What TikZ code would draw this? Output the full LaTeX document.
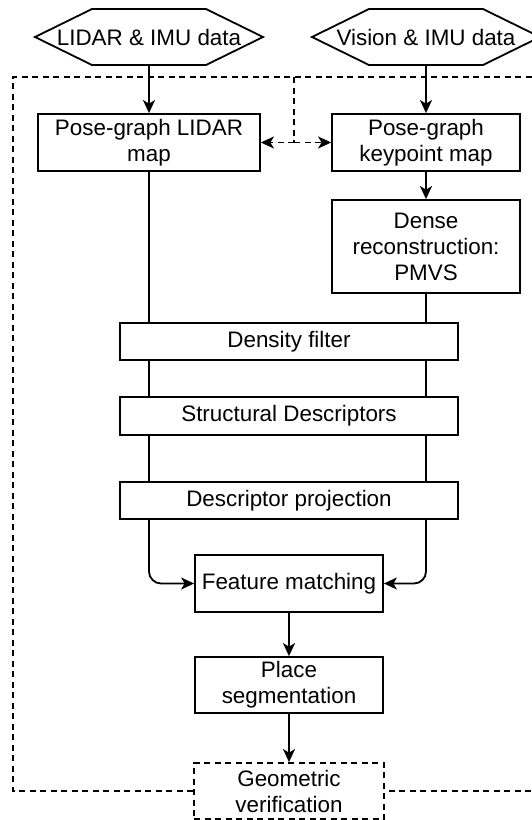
\documentclass[tikz,border=0pt]{standalone}
\usepackage{fontspec}
\setmainfont{Liberation Sans}
\usetikzlibrary{calc,arrows.meta}
\def\datahex(#1){\draw[line width=1.8pt] ($(#1)+(-114,0)$) -- ($(#1)+(-57,-28)$) -- ($(#1)+(57,-28)$) -- ($(#1)+(114,0)$) -- ($(#1)+(57,28)$) -- ($(#1)+(-57,28)$) -- cycle;}
\tikzset{
	box/.style={draw, line width=1.8pt, fill=white, align=center, inner sep=0pt, font=\fontsize{22.4}{26}\selectfont},
	hexlabel/.style={inner sep=0pt, minimum height=56pt, font=\fontsize{22.4}{26}\selectfont},
	flow/.style={line width=1.8pt},
	flowarrow/.style={flow, -{Stealth[length=13pt, width=12pt, inset=3.5pt]}},
	dashline/.style={line width=1.8pt, dash pattern=on 6pt off 4.5pt},
}

\begin{document}
\begin{tikzpicture}[x=1pt, y=-1pt]
			%%%%% START %%%%%
			\useasboundingbox (0,0) rectangle (532,820);
			\clip (0,0) rectangle (532,820);
			
			% inputs
			\node[hexlabel] (lidar) at (149,37) {LIDAR \& IMU data};
			\datahex(lidar)
			\node[hexlabel] (vision) at (426,37) {Vision \& IMU data};
			\datahex(vision)
			
			% pose graphs
			\node[box, minimum width=222pt, minimum height=57pt] (posel) at (149,142.5) {Pose-graph LIDAR\\map};
			\node[box, minimum width=188pt, minimum height=57pt] (posek) at (426,142.5) {Pose-graph\\keypoint map};
			\node[box, minimum width=188pt, minimum height=93pt] (dense) at (426,246.5) {Dense\\reconstruction:\\PMVS};
			
			% shared stages
			\node[box, minimum width=338pt, minimum height=37pt] (density) at (289,341.5) {Density filter};
			\node[box, minimum width=338pt, minimum height=38pt] (structdesc) at (289,416) {Structural Descriptors};
			\node[box, minimum width=338pt, minimum height=37pt] (descproj) at (289,500.5) {Descriptor projection};
			\node[box, minimum width=188pt, minimum height=57pt] (featmatch) at (289,583.5) {Feature matching};
			\node[box, minimum width=188pt, minimum height=56pt] (placeseg) at (289,685) {Place\\segmentation};
			\node[box, dashline, minimum width=190pt, minimum height=56pt] (geomver) at (289,791) {Geometric\\verification};
			
			% outer frame
			\draw[dashline] (geomver.west) -- (13,791) -- (13,77) -- (560,77) -- (560,791) -- (geomver.east);
			\coordinate (forktop) at (294,77);
			\coordinate (fork) at (294,142.5);
			\draw[dashline] (forktop) -- (fork);
			\draw[dashline, -{Stealth[length=13pt, width=12pt, inset=3.5pt]}] (fork) -- (posel.east);
			\draw[dashline, -{Stealth[length=13pt, width=12pt, inset=3.5pt]}] (fork) -- (posek.west);
			
			\draw[flowarrow] (lidar.south) -- (posel.north);
			\draw[flowarrow] (vision.south) -- (posek.north);
			\draw[flowarrow] (posek.south) -- (dense.north);
			
			% two columns through the stages
			\draw[flow] (posel.south) -- (posel.south |- density.north);
			\draw[flow] (dense.south) -- (dense.south |- density.north);
			\draw[flow] (posel.south |- density.south) -- (posel.south |- structdesc.north);
			\draw[flow] (dense.south |- density.south) -- (dense.south |- structdesc.north);
			\draw[flow] (posel.south |- structdesc.south) -- (posel.south |- descproj.north);
			\draw[flow] (dense.south |- structdesc.south) -- (dense.south |- descproj.north);
			\draw[flowarrow, rounded corners=12pt] (posel.south |- descproj.south) |- (featmatch.west);
			\draw[flowarrow, rounded corners=12pt] (dense.south |- descproj.south) |- (featmatch.east);
			
			\draw[flowarrow] (featmatch.south) -- (placeseg.north);
			\draw[flowarrow] (placeseg.south) -- (geomver.north);
			%%%%% END %%%%%
\end{tikzpicture}
\end{document}
